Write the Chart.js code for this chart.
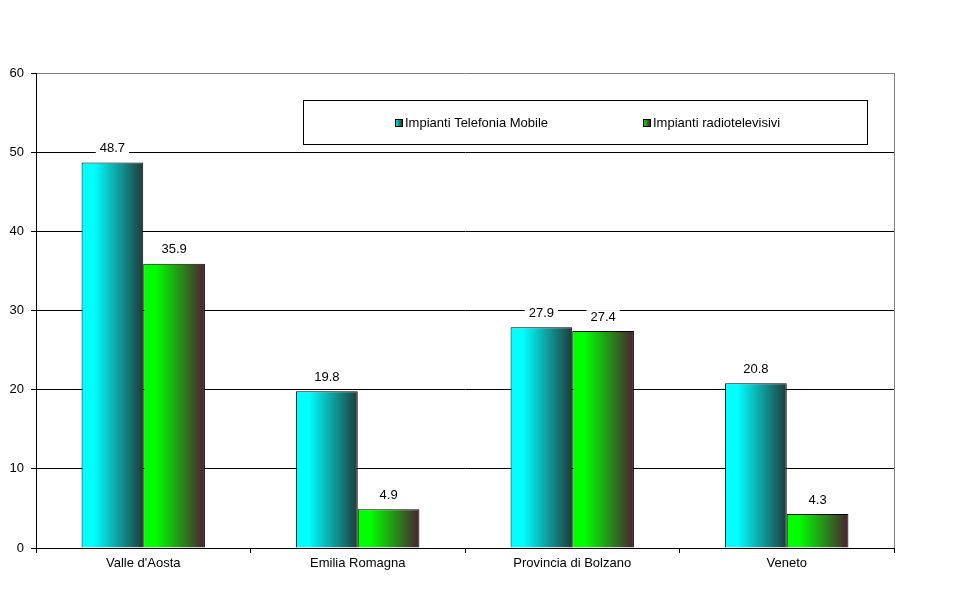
<!DOCTYPE html>
<html>
<head>
<meta charset="utf-8">
<script src="https://cdn.jsdelivr.net/npm/chart.js@4/dist/chart.umd.min.js"></script>
<style>
  html, body { margin: 0; padding: 0; background: #fff; }
  #wrap { width: 968px; height: 591px; }
</style>
</head>
<body>
<div id="wrap"><canvas id="regionChart"></canvas></div>
<script>
const regions = ["Valle d'Aosta", "Emilia Romagna", "Provincia di Bolzano", "Veneto"];
const mobile = [48.7, 19.8, 27.9, 20.8];
const radioTv = [35.9, 4.9, 27.4, 4.3];
const seriesNames = ["Impianti Telefonia Mobile", "Impianti radiotelevisivi"];
const yTicks = [0, 10, 20, 30, 40, 50, 60];

// light -> dark shade for each series
const shades = [
  ["#00ffff", "#1c3c3a"],
  ["#00ff00", "#4a2030"]
];

const FONT = "Liberation Sans, Arial, sans-serif";
const SIZE = 13;

const gradientBars = {
  id: "gradientBars",
  beforeDatasetsDraw(chart) {
    const ctx = chart.ctx;
    chart.data.datasets.forEach((ds, i) => {
      chart.getDatasetMeta(i).data.forEach(bar => {
        const left = bar.x - bar.width / 2;
        const g = ctx.createLinearGradient(left, 0, left + bar.width, 0);
        g.addColorStop(0, shades[i][0]);
        g.addColorStop(0.2, shades[i][0]);
        g.addColorStop(1, shades[i][1]);
        // each bar gets its own options object so the gradients don't overwrite each other
        bar.options = Object.assign({}, bar.options, { backgroundColor: g });
      });
    });
  }
};

const frameAndLabels = {
  id: "frameAndLabels",
  afterDatasetsDraw(chart) {
    const ctx = chart.ctx;
    const area = chart.chartArea;
    ctx.save();
    // right border
    ctx.strokeStyle = "#808080";
    ctx.lineWidth = 1;
    ctx.beginPath();
    ctx.moveTo(Math.round(area.right) + 0.5, area.top);
    ctx.lineTo(Math.round(area.right) + 0.5, area.bottom);
    ctx.stroke();

    // value labels
    ctx.font = SIZE + "px " + FONT;
    ctx.textAlign = "center";
    ctx.textBaseline = "middle";
    chart.data.datasets.forEach((ds, i) => {
      chart.getDatasetMeta(i).data.forEach((bar, j) => {
        const txt = ds.data[j].toFixed(1);
        const y = bar.y - 14;
        const w = ctx.measureText(txt).width + 8;
        ctx.fillStyle = "#fff";
        ctx.fillRect(bar.x - w / 2, y - 7, w, 14);
        ctx.fillStyle = "#000";
        ctx.fillText(txt, bar.x, y);
      });
    });

    // legend box
    const bx = 303, by = 100, bw = 564, bh = 44;
    ctx.fillStyle = "#fff";
    ctx.fillRect(bx, by, bw, bh);
    ctx.strokeStyle = "#000";
    ctx.strokeRect(bx + 0.5, by + 0.5, bw, bh);
    const items = [395, 643];
    chart.data.datasets.forEach((ds, i) => {
      const x = items[i];
      const cy = by + bh / 2 + 1;
      const g = ctx.createLinearGradient(x, 0, x + 7, 0);
      g.addColorStop(0, shades[i][0]);
      g.addColorStop(1, shades[i][1]);
      ctx.fillStyle = g;
      ctx.fillRect(x, cy - 4, 7, 7);
      ctx.strokeStyle = "#000";
      ctx.strokeRect(x + 0.5, cy - 3.5, 7, 7);
      ctx.fillStyle = "#000";
      ctx.textAlign = "left";
      ctx.fillText(ds.label, x + 10, cy);
    });
    ctx.restore();
  }
};

new Chart(document.getElementById("regionChart"), {
  type: "bar",
  data: {
    labels: regions,
    datasets: [
      { label: seriesNames[0], data: mobile, borderColor: "#000", borderWidth: 1 },
      { label: seriesNames[1], data: radioTv, borderColor: "#000", borderWidth: 1 }
    ]
  },
  options: {
    responsive: true,
    maintainAspectRatio: false,
    animation: false,
    devicePixelRatio: 1,
    layout: { padding: { top: 73, right: 74, left: 0, bottom: 0 } },
    datasets: { bar: { barPercentage: 1, categoryPercentage: 0.575 } },
    plugins: {
      legend: { display: false },
      tooltip: { enabled: false }
    },
    scales: {
      x: {
        afterFit: s => { s.height = 43; },
        grid: { drawOnChartArea: false, color: "#000", tickLength: 5, offset: true },
        border: { color: "#000" },
        ticks: { color: "#000", font: { family: FONT, size: SIZE }, padding: 3 }
      },
      y: {
        min: 0,
        max: 60,
        afterFit: s => { s.width = 36; },
        afterBuildTicks: s => { s.ticks = yTicks.map(v => ({ value: v })); },
        grid: {
          color: c => (c.tick && c.tick.value === 60 ? "#808080" : "#000"),
          tickColor: "#000",
          tickLength: 5
        },
        border: { color: "#000" },
        ticks: { color: "#000", font: { family: FONT, size: SIZE }, padding: 7 }
      }
    }
  },
  plugins: [gradientBars, frameAndLabels]
});
</script>
</body>
</html>
